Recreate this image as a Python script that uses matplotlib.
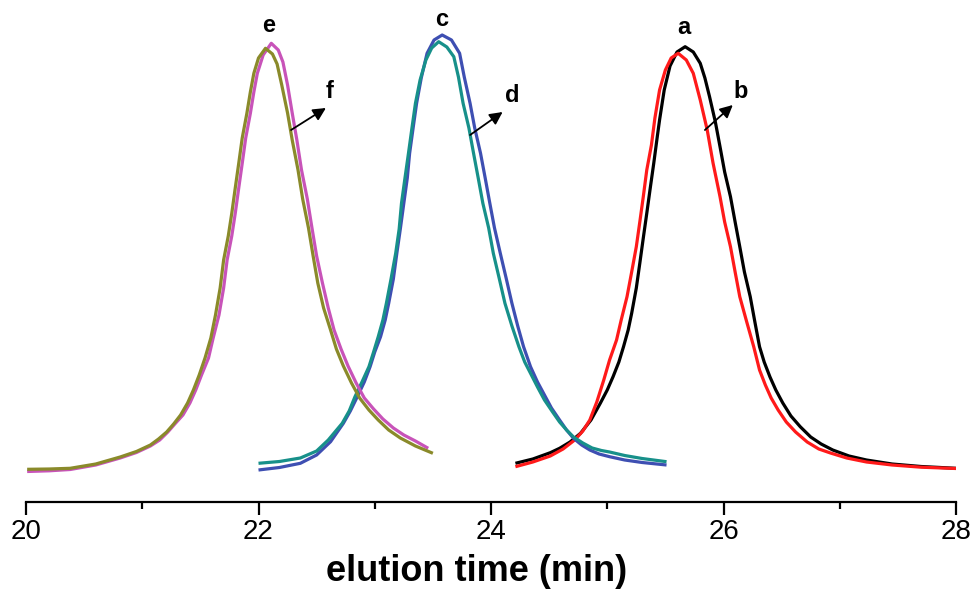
import matplotlib
matplotlib.use("Agg")
import matplotlib.pyplot as plt
from matplotlib.ticker import MultipleLocator

# ---- data (elution time in min, detector response in arbitrary units) ----
t_a = [24.21, 24.36, 24.51, 24.59, 24.68, 24.77, 24.86, 24.94, 25.00, 25.05, 25.10, 25.14, 25.18, 25.21,
       25.25, 25.28, 25.31, 25.34, 25.37, 25.40, 25.43, 25.45, 25.49, 25.54, 25.60, 25.67, 25.74, 25.80,
       25.84, 25.88, 25.93, 25.97, 26.01, 26.06, 26.10, 26.14, 26.18, 26.23, 26.27, 26.31, 26.35, 26.40,
       26.45, 26.51, 26.58, 26.66, 26.75, 26.84, 26.94, 27.08, 27.23, 27.45, 27.70, 28.00]
y_a = [6.7, 11, 17.3, 21.7, 28, 36.7, 50, 66.7, 80, 93.3, 108, 123.3, 140, 156.7,
       182, 206.7, 232, 256.7, 282, 306.7, 333, 350, 380, 404, 418, 423.3, 418, 406.7,
       392, 373.3, 348, 323.3, 298, 273.3, 248, 223.3, 198, 173.3, 148, 123.3, 108, 93,
       80, 67, 54, 43.3, 33, 26, 20, 14, 10, 6, 3.5, 1.7]

t_b = [24.21, 24.36, 24.51, 24.62, 24.72, 24.79, 24.85, 24.91, 24.97, 25.02, 25.08, 25.12, 25.17, 25.21,
       25.25, 25.28, 25.31, 25.34, 25.38, 25.41, 25.45, 25.50, 25.55, 25.61, 25.68, 25.74, 25.80, 25.86,
       25.91, 25.97, 26.01, 26.06, 26.10, 26.14, 26.20, 26.26, 26.31, 26.36, 26.41, 26.47, 26.54, 26.62,
       26.72, 26.82, 26.92, 27.06, 27.23, 27.45, 27.70, 28.00]
y_b = [3.3, 8, 14, 21, 30, 39, 50, 68, 90, 110, 130, 150, 173.3, 198,
       223.3, 248, 273.3, 300, 325, 352, 380, 400, 412, 416.7, 410, 396.7, 370, 340,
       307, 273.3, 248, 223.3, 198, 173.3, 148, 123.3, 100, 85, 72, 60, 48, 38,
       28, 21, 17, 12, 8, 5, 2.8, 1.5]

t_c = [22.00, 22.18, 22.36, 22.50, 22.62, 22.73, 22.79, 22.85, 22.91, 22.96, 23.00, 23.05, 23.09, 23.12,
       23.16, 23.19, 23.22, 23.25, 23.28, 23.30, 23.33, 23.36, 23.40, 23.45, 23.51, 23.58, 23.66, 23.73,
       23.77, 23.82, 23.86, 23.91, 23.95, 23.99, 24.03, 24.08, 24.13, 24.18, 24.23, 24.28, 24.34, 24.40,
       24.46, 24.52, 24.59, 24.65, 24.71, 24.78, 24.85, 24.93, 25.02, 25.15, 25.30, 25.51]
y_c = [0, 2.5, 6.7, 15, 28.3, 46.7, 59, 73.3, 88, 103.3, 118, 133.3, 150, 166.7,
       191, 216.7, 241, 266.7, 292, 316.7, 342, 366.7, 392, 416.7, 430, 435, 430, 416.7,
       393, 366.7, 342, 316.7, 292, 266.7, 242, 216.7, 192, 166.7, 144, 123.3, 103.3, 88,
       75, 62, 50, 40, 31.7, 25, 20, 16, 13.3, 10, 7.5, 5]

t_d = [22.00, 22.18, 22.36, 22.50, 22.60, 22.72, 22.78, 22.83, 22.89, 22.95, 22.99, 23.03, 23.07, 23.10,
       23.14, 23.18, 23.21, 23.23, 23.26, 23.29, 23.32, 23.35, 23.39, 23.44, 23.49, 23.55, 23.62, 23.68,
       23.72, 23.76, 23.81, 23.85, 23.89, 23.93, 23.98, 24.02, 24.07, 24.12, 24.18, 24.24, 24.29, 24.34,
       24.40, 24.46, 24.53, 24.59, 24.65, 24.71, 24.79, 24.87, 24.95, 25.02, 25.15, 25.30, 25.51]
y_d = [6.7, 8.5, 12, 19, 30, 46.7, 59, 73.3, 88, 103.3, 118, 133.3, 150, 166.7,
       191, 216.7, 241, 266.7, 292, 316.7, 342, 366.7, 390, 410, 422, 428.3, 423, 413.3,
       393, 366.7, 342, 316.7, 292, 266.7, 242, 216.7, 192, 166.7, 144, 123.3, 108, 96.7,
       83, 70, 58, 48, 40, 33, 27, 22, 19.5, 18, 14.5, 11.5, 8.3]

t_e = [20.01, 20.20, 20.38, 20.60, 20.81, 20.95, 21.07, 21.15, 21.22, 21.28, 21.35, 21.41, 21.46, 21.51,
       21.57, 21.61, 21.66, 21.70, 21.73, 21.77, 21.80, 21.83, 21.86, 21.89, 21.93, 21.96, 21.99, 22.04,
       22.11, 22.17, 22.21, 22.25, 22.29, 22.33, 22.37, 22.42, 22.46, 22.50, 22.55, 22.60, 22.65, 22.71,
       22.77, 22.84, 22.91, 22.99, 23.07, 23.16, 23.25, 23.35, 23.46]
y_e = [-1.5, -0.8, 0.5, 5, 12, 17.5, 24, 30, 38, 46, 55, 67, 80, 95,
       112, 132, 155, 182, 210, 234, 256.7, 282, 306.7, 332, 356.7, 378, 396.7, 415,
       426.7, 420, 408, 385, 357, 330, 300, 271, 242, 214, 187, 162, 140, 121,
       104, 87, 72, 61, 51, 42, 35, 29, 21.7]

t_f = [20.01, 20.20, 20.38, 20.60, 20.81, 20.95, 21.07, 21.14, 21.21, 21.27, 21.33, 21.39, 21.44, 21.49,
       21.54, 21.59, 21.63, 21.67, 21.70, 21.74, 21.77, 21.80, 21.83, 21.86, 21.90, 21.93, 21.96, 22.00,
       22.06, 22.12, 22.16, 22.20, 22.25, 22.29, 22.34, 22.38, 22.43, 22.47, 22.51, 22.56, 22.62, 22.67,
       22.73, 22.80, 22.87, 22.95, 23.03, 23.12, 23.22, 23.35, 23.50]
y_f = [0.7, 1, 1.7, 6, 13, 18.5, 25, 31, 38, 46, 55, 67, 80, 95,
       112, 132, 155, 182, 210, 234, 256.7, 282, 306.7, 332, 356.7, 378, 396.7, 412,
       421.7, 416, 406, 385, 357, 330, 300, 271, 242, 214, 187, 162, 140, 121,
       104, 87, 72, 60, 50, 40, 32, 24, 16.7]

series = [
    ("a", t_a, y_a, "#000000"),
    ("b", t_b, y_b, "#ff1a1a"),
    ("c", t_c, y_c, "#3e4fb2"),
    ("d", t_d, y_d, "#17908a"),
    ("e", t_e, y_e, "#c853b9"),
    ("f", t_f, y_f, "#8a8a2a"),
]

# peak labels (text, x, y) and arrow labels (text, tail x, tail y, head x, head y, text x, text y)
peak_labels = [("a", 25.66, 443), ("c", 23.58, 451), ("e", 22.09, 444)]
arrow_labels = [("b", 25.84, 340, 26.08, 365, 26.15, 378),
                ("d", 23.82, 335, 24.10, 358, 24.18, 375),
                ("f", 22.28, 340, 22.58, 362, 22.61, 378)]

fig = plt.figure(figsize=(9.76, 5.91), dpi=100)
ax = fig.add_axes([26 / 976, 89 / 591, 930 / 976, 502 / 591])

for name, t, y, col in series:
    ax.plot(t, y, color=col, lw=2.3, solid_capstyle="butt", solid_joinstyle="round")

for txt, x, y in peak_labels:
    ax.text(x, y, txt, ha="center", va="center", fontsize=17, fontweight="bold",
            family=["Liberation Sans", "DejaVu Sans"], clip_on=False)

for txt, x0, y0, x1, y1, xt, yt in arrow_labels:
    ax.annotate("", xy=(x1, y1), xytext=(x0, y0),
                arrowprops=dict(arrowstyle="-|>", color="black", lw=1.3, mutation_scale=19,
                                shrinkA=0, shrinkB=0))
    ax.text(xt, yt, txt, ha="center", va="center", fontsize=17, fontweight="bold",
            family=["Liberation Sans", "DejaVu Sans"])

ax.set_xlim(20, 28)
ax.set_ylim(-32, 470)
for s in ["top", "right", "left"]:
    ax.spines[s].set_visible(False)
ax.spines["bottom"].set_linewidth(1.6)
ax.yaxis.set_visible(False)
ax.xaxis.set_major_locator(MultipleLocator(2))
ax.xaxis.set_minor_locator(MultipleLocator(1))
ax.tick_params(axis="x", which="major", direction="out", length=9, width=1.6, pad=3,
               labelsize=20)
ax.tick_params(axis="x", which="minor", direction="out", length=5, width=1.6)
for lab in ax.get_xticklabels():
    lab.set_family(["Liberation Sans", "DejaVu Sans"])
ax.set_xlabel("elution time (min)", fontsize=26, fontweight="bold",
              family=["Liberation Sans", "DejaVu Sans"])
ax.xaxis.set_label_coords(0.484, -0.103)

fig.savefig("out.png", dpi=100)
